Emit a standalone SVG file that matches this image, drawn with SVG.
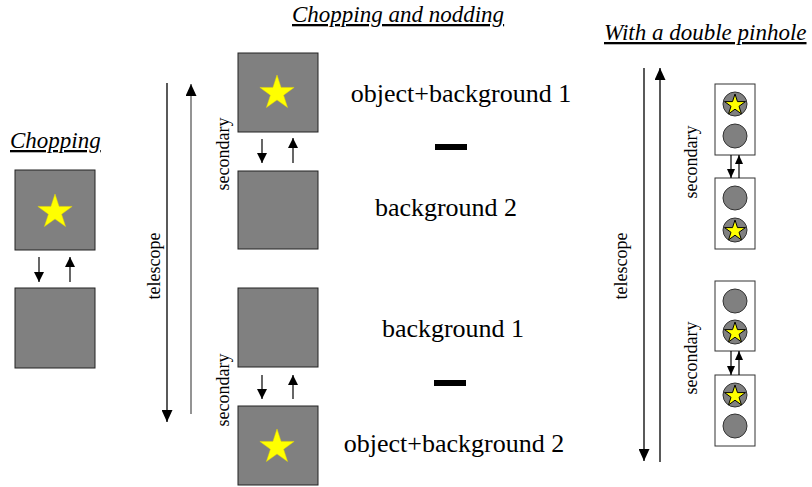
<svg xmlns="http://www.w3.org/2000/svg" width="812" height="487" viewBox="0 0 812 487" font-family="Liberation Serif, Tinos, DejaVu Serif, serif">
<style>
text{font-family:'Liberation Serif','Tinos','DejaVu Serif',serif;fill:#000}
.title{font-size:23px;font-style:italic;text-decoration:underline}
.lbl{font-size:26px}
.rot{font-size:18px}
.box{fill:#808080;stroke:#222;stroke-width:1}
.pbox{fill:#fff;stroke:#333;stroke-width:1}
.hole{fill:#808080;stroke:#333;stroke-width:1}
.big{fill:#ffff00;stroke:#e6d800;stroke-width:0.5}
.sm{fill:#ffff00;stroke:#000;stroke-width:1}
.ar{stroke:#000;stroke-width:1.2;fill:none;marker-end:url(#ah)}
.ars{stroke:#000;stroke-width:1.2;fill:none;marker-end:url(#ahs)}
.tel{stroke:#000;stroke-width:1.3;fill:none;marker-end:url(#ahl)}
.telg{stroke:#707070;stroke-width:1.5;fill:none;marker-end:url(#ahl)}
.minus{fill:#000}
</style>
<defs>
<marker id="ah" markerUnits="userSpaceOnUse" markerWidth="10" markerHeight="10" refX="10" refY="5" orient="auto"><path d="M0,0 L10,5 L0,10 z" fill="#000"/></marker>
<marker id="ahs" markerUnits="userSpaceOnUse" markerWidth="9" markerHeight="8" refX="9" refY="4" orient="auto"><path d="M0,0 L9,4 L0,8 z" fill="#000"/></marker>
<marker id="ahl" markerUnits="userSpaceOnUse" markerWidth="12" markerHeight="11" refX="12" refY="5.5" orient="auto"><path d="M0,0 L12,5.5 L0,11 z" fill="#000"/></marker>
<polygon id="bigstar" points="0,-18 4.06,-5.58 17.12,-5.56 6.56,2.13 10.58,14.56 0,6.9 -10.58,14.56 -6.56,2.13 -17.12,-5.56 -4.06,-5.58"/>
<polygon id="smstar" points="0,-11 2.47,-3.4 10.46,-3.4 4,1.3 6.47,8.9 0,4.2 -6.47,8.9 -4,1.3 -10.46,-3.4 -2.47,-3.4"/>
</defs>

<!-- Titles -->
<text class="title" x="10" y="148">Chopping</text>
<text class="title" x="292" y="22">Chopping and nodding</text>
<text class="title" x="604" y="40">With a double pinhole</text>

<!-- Chopping -->
<g id="chop-obj"><rect class="box" x="15" y="170" width="80" height="80"/><use href="#bigstar" class="big" x="55" y="212"/></g>
<g id="chop-bg"><rect class="box" x="15" y="288" width="80" height="80"/></g>

<!-- Chopping and nodding -->
<g id="cn-obj1"><rect class="box" x="238" y="53" width="80" height="79"/><use href="#bigstar" class="big" x="277" y="93"/></g>
<g id="cn-bg2"><rect class="box" x="238" y="171" width="80" height="78"/></g>
<g id="cn-bg1"><rect class="box" x="238" y="288" width="80" height="79"/></g>
<g id="cn-obj2"><rect class="box" x="238" y="406" width="80" height="79"/><use href="#bigstar" class="big" x="277" y="447"/></g>

<g id="cn-labels">
<text class="lbl" x="461" y="102" text-anchor="middle">object+background 1</text>
<text class="lbl" x="446" y="216" text-anchor="middle">background 2</text>
<text class="lbl" x="453" y="337" text-anchor="middle">background 1</text>
<text class="lbl" x="454" y="452" text-anchor="middle">object+background 2</text>
<rect class="minus" x="435" y="144" width="32" height="6"/>
<rect class="minus" x="434" y="380" width="32" height="6"/>
<text class="rot" transform="translate(160,266) rotate(-90)" text-anchor="middle">telescope</text>
<text class="rot" transform="translate(229,154) rotate(-90)" text-anchor="middle">secondary</text>
<text class="rot" transform="translate(229,390) rotate(-90)" text-anchor="middle">secondary</text>
</g>

<!-- Double pinhole -->
<g id="dp-1"><rect class="pbox" x="715" y="84" width="40" height="71"/><circle class="hole" cx="735" cy="104" r="12"/><use href="#smstar" class="sm" x="735" y="105"/><circle class="hole" cx="735" cy="136" r="12"/></g>
<g id="dp-2"><rect class="pbox" x="715" y="178" width="40" height="71"/><circle class="hole" cx="735" cy="198" r="12"/><circle class="hole" cx="735" cy="230" r="12"/><use href="#smstar" class="sm" x="735" y="231"/></g>
<g id="dp-3"><rect class="pbox" x="715" y="281" width="40" height="70"/><circle class="hole" cx="735" cy="301" r="12"/><circle class="hole" cx="735" cy="332" r="12"/><use href="#smstar" class="sm" x="735" y="333"/></g>
<g id="dp-4"><rect class="pbox" x="715" y="375" width="40" height="71"/><circle class="hole" cx="735" cy="395" r="12"/><use href="#smstar" class="sm" x="735" y="396"/><circle class="hole" cx="735" cy="426" r="12"/></g>
<g id="dp-labels">
<text class="rot" transform="translate(627,266) rotate(-90)" text-anchor="middle">telescope</text>
<text class="rot" transform="translate(697,162) rotate(-90)" text-anchor="middle">secondary</text>
<text class="rot" transform="translate(697,358) rotate(-90)" text-anchor="middle">secondary</text>
</g>

<!-- Connectors -->
<g id="connectors">
<line class="ar" x1="39" y1="257" x2="39" y2="282"/>
<line class="ar" x1="70" y1="282" x2="70" y2="257"/>
<line class="ar" x1="262" y1="139" x2="262" y2="163"/>
<line class="ar" x1="293" y1="163" x2="293" y2="138"/>
<line class="ar" x1="262" y1="375" x2="262" y2="399"/>
<line class="ar" x1="293" y1="399" x2="293" y2="375"/>
<line class="tel" x1="167" y1="83" x2="167" y2="422"/>
<line class="telg" x1="191" y1="414" x2="191" y2="84"/>
<line class="ars" x1="731" y1="155" x2="731" y2="178"/>
<line class="ars" x1="739" y1="178" x2="739" y2="155"/>
<line class="ars" x1="731" y1="351" x2="731" y2="375"/>
<line class="ars" x1="739" y1="375" x2="739" y2="351"/>
<line class="tel" x1="644" y1="68" x2="644" y2="461"/>
<line class="tel" x1="660" y1="462" x2="660" y2="68"/>
</g>
</svg>
